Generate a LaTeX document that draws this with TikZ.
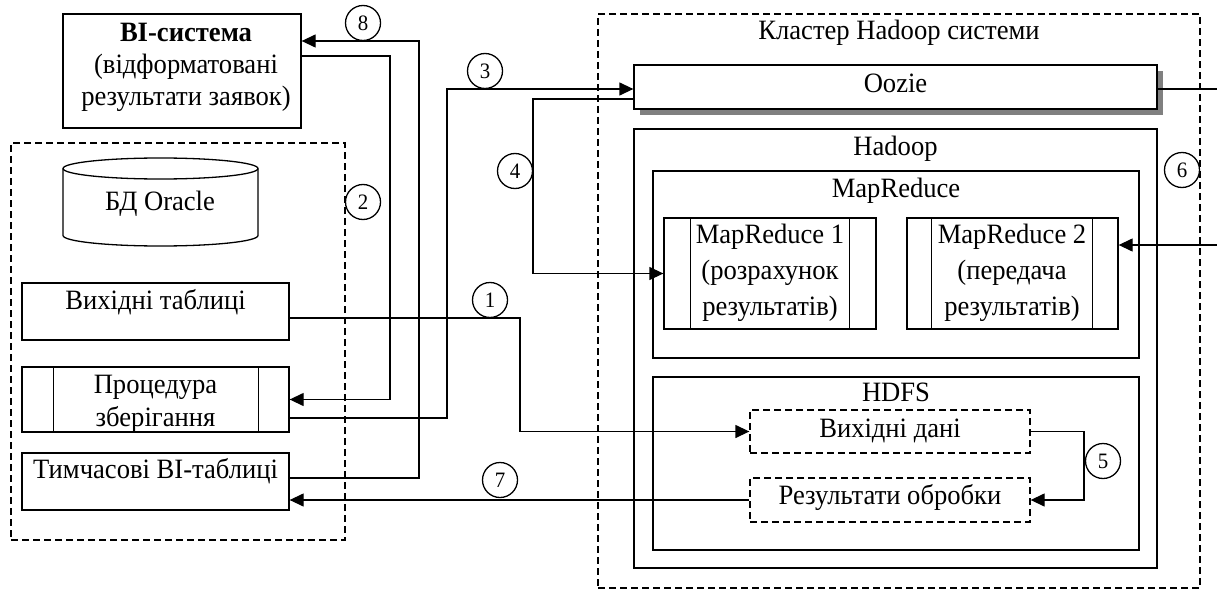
\documentclass[tikz,border=0pt]{standalone}
\usepackage{fontspec}
\setmainfont{Liberation Serif}[FakeStretch=0.95]
\usetikzlibrary{arrows.meta,shadows}
\begin{document}
\begin{tikzpicture}[x=1pt,y=-1pt,
  box/.style={draw, line width=1.3pt, inner sep=0pt, rectangle},
  dbox/.style={box, dash pattern=on 7pt off 4pt},
  txt/.style={font=\fontsize{28}{32}\selectfont, inner sep=0pt, align=center},
  num/.style={circle, draw, line width=1.3pt, fill=white, minimum size=35pt, inner sep=0pt, font=\fontsize{22}{24}\selectfont},
  arr/.style={line width=1.3pt, -{Triangle[length=14pt,width=13pt]}},
  conn/.style={line width=1.3pt}]
\useasboundingbox (0,0) rectangle (1217,591);

% ---------- left side ----------
\node[box, minimum width=238pt, minimum height=114pt] (bi) at (182,71) {};
\node[txt] (bit) at (186,67) {\textbf{BI-система}\\(відформатовані\\результати заявок)};

\node[dbox, minimum width=334pt, minimum height=397pt] (oracle) at (178,341.5) {};

\draw[line width=1.3pt] (63,168.5) -- (63,235.5)
  arc[start angle=180,end angle=360,x radius=97.5pt,y radius=10.5pt] -- (258,168.5);
\draw[line width=1.3pt] (160.5,168.5) ellipse [x radius=97.5pt, y radius=10.5pt];
\node[txt, anchor=base] (dbt) at (160,210) {БД Oracle};

\node[box, minimum width=267pt, minimum height=57pt] (vt) at (155.5,311.5) {};
\node[txt, anchor=base] (vtt) at (155.5,309) {Вихідні таблиці};

\node[box, minimum width=267pt, minimum height=65pt] (proc) at (155.5,399.5) {};
\draw[line width=1.3pt] ([xshift=32pt]proc.north west) -- ([xshift=32pt]proc.south west);
\draw[line width=1.3pt] ([xshift=-31pt]proc.north east) -- ([xshift=-31pt]proc.south east);
\node[txt] (proct) at (155.5,403.5) {Процедура\\[1pt]зберігання};

\node[box, minimum width=267pt, minimum height=57pt] (tmp) at (155.5,481.5) {};
\node[txt, anchor=base] (tmpt) at (155.5,478) {Тимчасові BI-таблиці};

% ---------- cluster ----------
\node[dbox, minimum width=602pt, minimum height=574pt] (cluster) at (899,301) {};
\node[txt, anchor=base] (clt) at (899,40) {Кластер Hadoop системи};

\node[box, fill=white, minimum width=523pt, minimum height=44pt,
  drop shadow={shadow xshift=6pt, shadow yshift=-6pt, fill=black!50, opacity=1}] (oozie) at (895.5,87) {};
\node[txt, anchor=base] (ooziet) at (895.5,93) {Oozie};

\node[box, minimum width=523pt, minimum height=439pt] (hadoop) at (895.5,348.5) {};
\node[txt, anchor=base] (hadoopt) at (895.5,155) {Hadoop};

\node[box, minimum width=486pt, minimum height=187pt] (mr) at (896,264.5) {};
\node[txt, anchor=base] (mrt) at (896,197) {MapReduce};

\node[box, minimum width=212pt, minimum height=111pt] (mr1) at (770,273.5) {};
\draw[line width=1.3pt] ([xshift=27pt]mr1.north west) -- ([xshift=27pt]mr1.south west);
\draw[line width=1.3pt] ([xshift=-27pt]mr1.north east) -- ([xshift=-27pt]mr1.south east);
\node[txt, font=\fontsize{28}{36}\selectfont] (mr1t) at (770,273) {MapReduce 1\\(розрахунок\\результатів)};

\node[box, minimum width=211pt, minimum height=111pt] (mr2) at (1012.5,273.5) {};
\draw[line width=1.3pt] ([xshift=25pt]mr2.north west) -- ([xshift=25pt]mr2.south west);
\draw[line width=1.3pt] ([xshift=-26pt]mr2.north east) -- ([xshift=-26pt]mr2.south east);
\node[txt, font=\fontsize{28}{36}\selectfont] (mr2t) at (1012,273) {MapReduce 2\\(передача\\результатів)};

\node[box, minimum width=486pt, minimum height=173pt] (hdfs) at (896,463.5) {};
\node[txt, anchor=base] (hdfst) at (896,401) {HDFS};

\node[dbox, minimum width=280pt, minimum height=43pt] (vd) at (890,431.5) {};
\node[txt, anchor=base] (vdt) at (890,437) {Вихідні дані};

\node[dbox, minimum width=280pt, minimum height=44pt] (ro) at (890,500) {};
\node[txt, anchor=base] (rot) at (890,504) {Результати обробки};

% ---------- connectors ----------
\coordinate (r6a) at (1217,89);
\coordinate (r6b) at (1217,245);

\draw[arr] (vt.east |- 0,318) -- (520,318) |- (vd.west);
\draw[arr] (bi.east |- 0,56) -- (390,56) |- (proc.east);
\draw[arr] (proc.east |- 0,418) -- (447,418) |- (oozie.west |- 0,89);
\draw[arr] (oozie.west |- 0,99) -- (533,99) |- (mr1.west);
\draw[arr] (vd.east) -- (1084,431.5) |- (ro.east);
\draw[conn] (oozie.east |- r6a) -- (r6a);
\draw[arr] (r6b) -- (mr2.east |- r6b);
\draw[arr] (ro.west) -- (tmp.east |- ro.west);
\draw[arr] (tmp.east |- 0,478) -- (419,478) |- (bi.east |- 0,41);

% ---------- numbers ----------
\node[num] (n1) at (490,300) {1};
\node[num] (n2) at (363,202) {2};
\node[num] (n3) at (485,71) {3};
\node[num] (n4) at (515,171) {4};
\node[num] (n5) at (1103,461) {5};
\node[num] (n6) at (1182,170) {6};
\node[num] (n7) at (500,480) {7};
\node[num] (n8) at (363,23) {8};
\end{tikzpicture}
\end{document}
